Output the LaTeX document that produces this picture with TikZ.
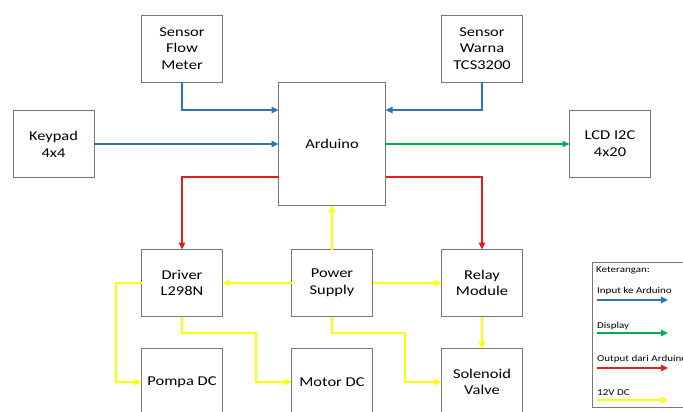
\documentclass[tikz,border=0pt]{standalone}
\usepackage{fontspec}
\setmainfont{Carlito}[FakeStretch=1.22]
\usetikzlibrary{arrows.meta}
\definecolor{boxgray}{RGB}{120,120,120}
\definecolor{cblue}{RGB}{46,117,182}
\definecolor{cgreen}{RGB}{0,176,80}
\definecolor{cred}{RGB}{232,28,28}
\definecolor{cyellow}{RGB}{255,255,0}
\tikzset{
  box/.style={draw=boxgray, line width=0.8pt, minimum width=81pt, minimum height=67pt,
    inner sep=0pt, outer sep=0pt, align=center, font=\fontsize{13.5}{16.7}\selectfont},
  conn/.style={line width=1.4pt, -{Triangle[length=7pt,width=6.5pt]}},
  legtext/.style={anchor=west, inner sep=0pt, font=\fontsize{9}{10}\selectfont},
}
\begin{document}
\begin{tikzpicture}[x=1pt,y=-1pt]
\useasboundingbox (0,0) rectangle (683,412);
\clip (0,0) rectangle (683,412);
% nodes
\node[box] (flow) at (182,48.5) {Sensor\\Flow\\Meter};
\node[box] (warna) at (482,48.5) {Sensor\\Warna\\TCS3200};
\node[box, minimum width=107pt, minimum height=123pt] (ard) at (332,144) {Arduino};
\node[box] (key) at (53.5,144) {Keypad\\4x4};
\node[box] (lcd) at (610,144) {LCD I2C\\4x20};
\node[box] (drv) at (182,283) {Driver\\L298N};
\node[box] (ps) at (332,283) {Power\\Supply};
\node[box] (relay) at (482,283) {Relay\\Module};
\node[box] (pompa) at (182,382) {Pompa DC};
\node[box] (motor) at (332,382) {Motor DC};
\node[box] (sol) at (482,382) {Solenoid\\Valve};
% anchor points
\coordinate (ardW) at (ard.west);
\coordinate (ardE) at (ard.east);
\coordinate (ardS) at (ard.south);
\coordinate (keyE) at (key.east);
\coordinate (lcdW) at (lcd.west);
\coordinate (psN) at (ps.north);
% blue inputs
\draw[conn, cblue] (flow.south) |- ([yshift=34pt]ard.west);
\draw[conn, cblue] (warna.south) |- ([yshift=34pt]ard.east);
\draw[conn, cblue] (keyE) -- (ardW);
% green display
\draw[conn, cgreen] (ardE) -- (lcdW);
% red outputs
\draw[conn, cred] ([yshift=-33pt]ard.west) -| (drv.north);
\draw[conn, cred] ([yshift=-33pt]ard.east) -| (relay.north);
% yellow 12V
\coordinate (p1) at (116,283);
\coordinate (m1) at (256,333);
\coordinate (s1) at (405,333);
\draw[conn, cyellow] (psN) -- (ardS);
\draw[conn, cyellow] (ps.west) -- (drv.east);
\draw[conn, cyellow] (ps.east) -- (relay.west);
\draw[conn, cyellow] (drv.west) -- (p1) |- (pompa.west);
\draw[conn, cyellow] (drv.south) |- (m1) |- (motor.west);
\draw[conn, cyellow] (ps.south) |- (s1) |- (sol.west);
\draw[conn, cyellow] (relay.south) -- (sol.north);
% legend
\node[draw=boxgray, line width=0.6pt, minimum width=120pt, minimum height=145pt, anchor=north west, inner sep=0pt] (leg) at (592,262) {};
\node[legtext] (lk) at (596,270) {Keterangan:};
\node[legtext] (li) at (597,291) {Input ke Arduino};
\node[legtext] (ld) at (597,326) {Display};
\node[legtext] (lo) at (597,359) {Output dari Arduino};
\node[legtext] (ly) at (597,393) {12V DC};
\coordinate (a1) at (597,300); \coordinate (b1) at (668,300);
\coordinate (a2) at (597,333); \coordinate (b2) at (668,333);
\coordinate (a3) at (597,368); \coordinate (b3) at (668,368);
\coordinate (a4) at (597,400); \coordinate (b4) at (668,400);
\draw[conn, cblue] (a1) -- (b1);
\draw[conn, cgreen] (a2) -- (b2);
\draw[conn, cred] (a3) -- (b3);
\draw[conn, cyellow] (a4) -- (b4);
\end{tikzpicture}
\end{document}
